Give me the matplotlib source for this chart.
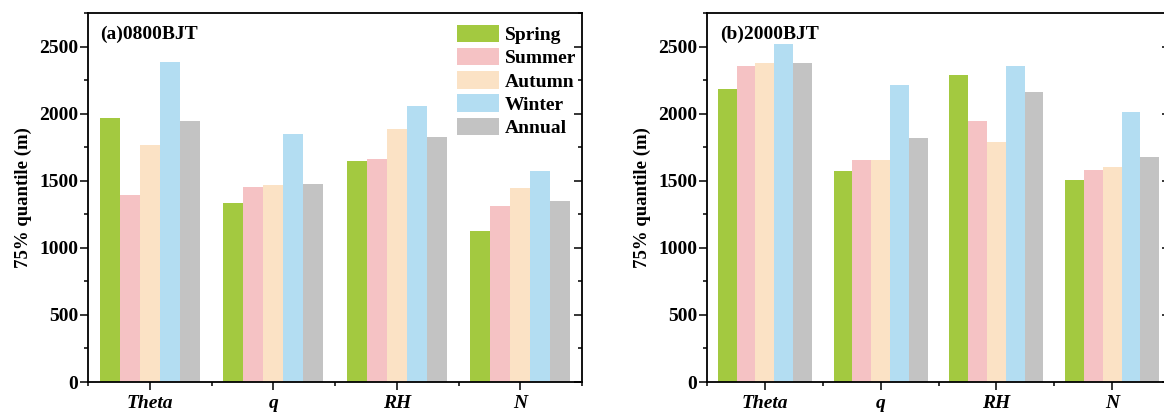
import numpy as np
import matplotlib
matplotlib.use('Agg')
import matplotlib.pyplot as plt
from matplotlib.ticker import MultipleLocator, FixedLocator

plt.rcParams['font.family'] = ['Liberation Serif', 'DejaVu Serif']
plt.rcParams['font.weight'] = 'bold'

# Категорії та сезони
variables = ['Theta', 'q', 'RH', 'N']
seasons = ['Spring', 'Summer', 'Autumn', 'Winter', 'Annual']
colors = ['#a3c940', '#f5c2c4', '#fbe2c5', '#b3ddf2', '#c3c3c3']

# 0800BJT
spring_08 = [1970, 1335, 1650, 1125]
summer_08 = [1390, 1452, 1660, 1315]
autumn_08 = [1765, 1466, 1885, 1445]
winter_08 = [2382, 1846, 2060, 1570]
annual_08 = [1945, 1475, 1825, 1350]

# 2000BJT
spring_20 = [2182, 1570, 2290, 1508]
summer_20 = [2358, 1652, 1945, 1578]
autumn_20 = [2380, 1652, 1790, 1600]
winter_20 = [2518, 2210, 2358, 2009]
annual_20 = [2380, 1822, 2162, 1678]

data_08 = [spring_08, summer_08, autumn_08, winter_08, annual_08]
data_20 = [spring_20, summer_20, autumn_20, winter_20, annual_20]

W, H = 1164, 415
fig = plt.figure(figsize=(W / 100, H / 100), dpi=100)


def draw_panel(rect, data, title, tx, legend=False):
    ax = fig.add_axes(rect)
    x = np.arange(len(variables))
    width = 0.162
    for i, (vals, c, s) in enumerate(zip(data, colors, seasons)):
        ax.bar(x + (i - 2) * width, vals, width, color=c, edgecolor='none', label=s)
    ax.set_xlim(-0.5, 3.5)
    ax.set_ylim(0, 2750)
    ax.yaxis.set_major_locator(MultipleLocator(500))
    ax.yaxis.set_minor_locator(MultipleLocator(250))
    ax.set_xticks(x)
    ax.set_xticklabels(variables, fontsize=14, fontweight='bold', fontstyle='italic')
    ax.xaxis.set_minor_locator(FixedLocator([-0.5, 0.5, 1.5, 2.5, 3.5]))
    ax.tick_params(axis='y', which='major', direction='out', length=6, width=1.1,
                   labelsize=14, pad=1, right=False)
    ax.tick_params(axis='y', which='minor', direction='out', length=3, width=1.1, right=False)
    ax.tick_params(axis='x', which='major', direction='out', length=6, width=1.1, pad=3, top=False)
    ax.tick_params(axis='x', which='minor', direction='out', length=3, width=1.1, top=False)
    for lab in ax.get_yticklabels():
        lab.set_fontweight('bold')
    for sp in ax.spines.values():
        sp.set_linewidth(1.3)
    ax.set_ylabel('75% quantile (m)', fontsize=13.5, fontweight='bold', labelpad=5)
    ax.text(tx, 0.965, title, transform=ax.transAxes, fontsize=14,
            fontweight='bold', va='top', ha='left')

    # праві риски всередину
    ax2 = ax.twinx()
    ax2.set_ylim(ax.get_ylim())
    ax2.yaxis.set_major_locator(MultipleLocator(500))
    ax2.yaxis.set_minor_locator(MultipleLocator(250))
    ax2.tick_params(axis='y', which='major', direction='in', length=6, width=1.1, labelright=False)
    ax2.tick_params(axis='y', which='minor', direction='in', length=3, width=1.1)
    for sp in ax2.spines.values():
        sp.set_visible(False)

    if legend:
        ax.legend(loc='upper right', bbox_to_anchor=(1.012, 1.0), frameon=False,
                  prop={'weight': 'bold', 'size': 14}, handlelength=2.15,
                  handleheight=1.0, labelspacing=0.2, handletextpad=0.3,
                  borderaxespad=0.2)
    return ax


draw_panel([88 / W, 33 / H, (582 - 88) / W, 369 / H], data_08, '(a)0800BJT', 0.024, legend=True)
draw_panel([707 / W, 33 / H, (1170 - 707) / W, 369 / H], data_20, '(b)2000BJT', 0.028)

plt.savefig('out.png', dpi=100)
